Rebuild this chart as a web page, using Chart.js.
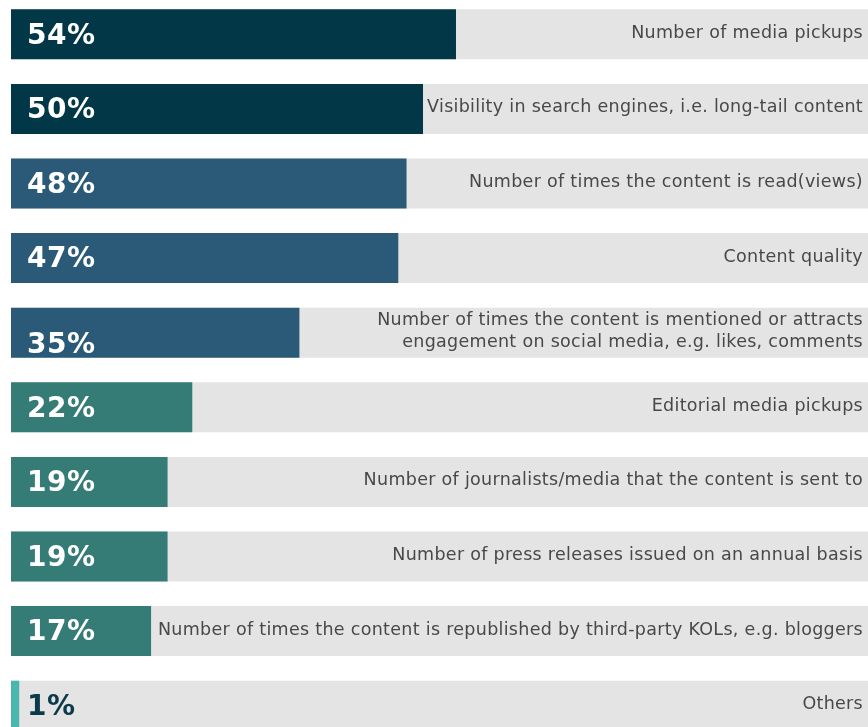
<!DOCTYPE html>
<html>
<head>
<meta charset="utf-8">
<script src="https://cdn.jsdelivr.net/npm/chart.js@4"></script>
<style>
  html, body { margin: 0; padding: 0; background: #ffffff; overflow: hidden; }
  #wrap { position: absolute; left: 0; top: -3px; width: 868px; height: 746px; }
</style>
</head>
<body>
<div id="wrap"><canvas id="barChart"></canvas></div>
<script>
// data
const categories = [
    ['Number of media pickups'],
    ['Visibility in search engines, i.e. long-tail content'],
    ['Number of times the content is read(views)'],
    ['Content quality'],
    ['Number of times the content is mentioned or attracts', 'engagement on social media, e.g. likes, comments'],
    ['Editorial media pickups'],
    ['Number of journalists/media that the content is sent to'],
    ['Number of press releases issued on an annual basis'],
    ['Number of times the content is republished by third-party KOLs, e.g. bloggers'],
    ['Others']
];
const percentValues = [54, 50, 48, 47, 35, 22, 19, 19, 17, 1];
// grey track behind each bar, running to the end of the axis
const axisMax = 104;
const trackValues = [104, 104, 104, 104, 104, 104, 104, 104, 104, 104];

const barColors = ['#023748', '#023748', '#2a5a77', '#2a5a77', '#2a5a77',
    '#357b76', '#357b76', '#357b76', '#357b76', '#4ab7ae'];

const labelFont = '17.5px "DejaVu Sans"';
const pctFont = 'bold 28px "DejaVu Sans"';

// texts drawn on top of the bars
const barTexts = {
    id: 'barTexts',
    afterDatasetsDraw(chart) {
        const ctx = chart.ctx;
        const meta = chart.getDatasetMeta(1);
        const area = chart.chartArea;
        ctx.save();
        meta.data.forEach((bar, i) => {
            const lines = categories[i];
            const lineH = 22;
            const firstY = bar.y - (lines.length - 1) * lineH / 2;
            ctx.font = labelFont;
            ctx.letterSpacing = '0.3px';
            ctx.fillStyle = '#484848';
            ctx.textAlign = 'right';
            ctx.textBaseline = 'middle';
            lines.forEach((line, k) => {
                ctx.fillText(line, area.right - 5, firstY + k * lineH - 1);
            });
            const lastY = firstY + (lines.length - 1) * lineH;
            ctx.font = pctFont;
            ctx.letterSpacing = '0.5px';
            ctx.textAlign = 'left';
            ctx.fillStyle = percentValues[i] < 5 ? '#0b3a4b' : '#ffffff';
            ctx.fillText(percentValues[i] + '%', area.left + 16, lastY + 2);
        });
        ctx.restore();
    }
};

const ctx = document.getElementById('barChart').getContext('2d');

const barChart = new Chart(ctx, {
    type: 'bar',
    data: {
        labels: categories,
        datasets: [
            {
                label: 'Share',
                data: percentValues,
                backgroundColor: barColors,
                borderWidth: 0,
                grouped: false,
                order: 1,
                categoryPercentage: 1,
                barPercentage: 0.67
            },
            {
                label: 'Track',
                data: trackValues,
                backgroundColor: '#e4e4e4',
                borderWidth: 0,
                grouped: false,
                order: 2,
                categoryPercentage: 1,
                barPercentage: 0.67
            }
        ]
    },
    options: {
        indexAxis: 'y',
        responsive: true,
        maintainAspectRatio: false,
        animation: false,
        layout: { padding: { left: 11, right: 0, top: 0, bottom: 0 } },
        plugins: {
            legend: { display: false },
            tooltip: { enabled: false }
        },
        scales: {
            x: { display: false, min: 0, max: axisMax },
            y: { display: false }
        }
    },
    plugins: [barTexts]
});
</script>
</body>
</html>
